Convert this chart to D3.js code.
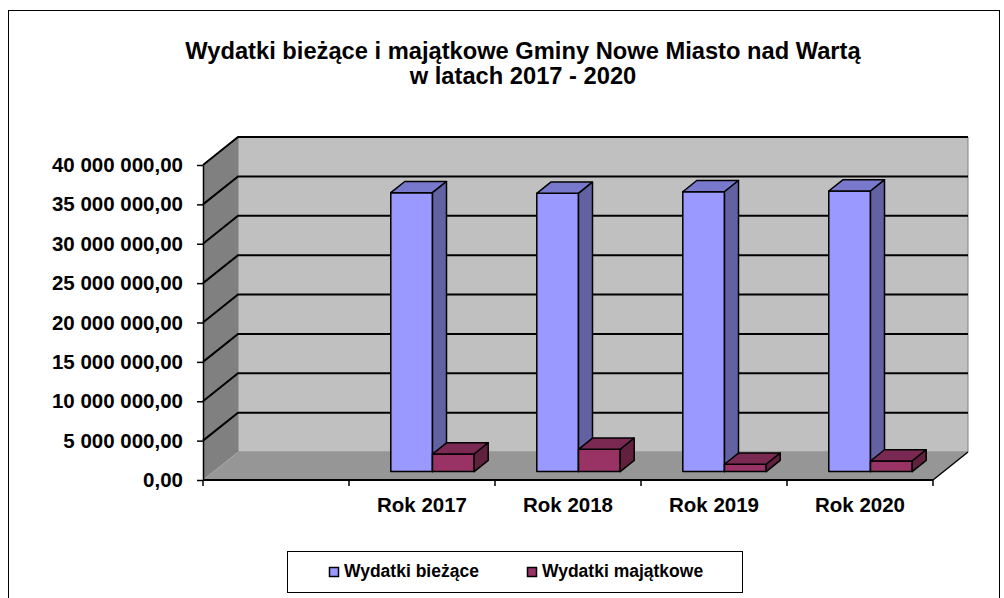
<!DOCTYPE html>
<meta charset="utf-8">
<head>
    <title>Wydatki bieżące i majątkowe</title>
    <script src="https://d3js.org/d3.v7.min.js"></script>
</head>
<style type="text/css">
body {
    margin: 0;
    background: #FFFFFF;
}
svg text {
    font-family: "Liberation Sans", Arial, sans-serif;
    font-weight: bold;
    fill: #000000;
}
</style>
<body>
    <svg id="chart" width="1004" height="598"></svg>

    <script type="text/javascript">
        // data
        var categories = ["", "Rok 2017", "Rok 2018", "Rok 2019", "Rok 2020"];
        var seriesNames = ["Wydatki bieżące", "Wydatki majątkowe"];
        var biezace = [null, 35420000, 35340000, 35540000, 35630000];
        var majatkowe = [null, 2230000, 2830000, 930000, 1350000];
        var yTicks = [0, 5000000, 10000000, 15000000, 20000000, 25000000, 30000000, 35000000, 40000000];
        var titleLines = ["Wydatki bieżące i majątkowe Gminy Nowe Miasto nad Wartą", "w latach 2017 - 2020"];

        var colors = {
            "Wydatki bieżące": {front: "#9999FF", top: "#7878CC", side: "#6262A3"},
            "Wydatki majątkowe": {front: "#993366", top: "#7A2952", side: "#62203F"}
        };

        var svg = d3.select("#chart");

        // plot box (front plane) and 3d depth offset
        var pLeft = 203, pRight = 933, pBottom = 480, pTop = 165;
        var DX = 35, DY = 28;
        var z0 = 0.3, z1 = 0.7;

        function P(x, y, z) { return [x + z * DX, y - z * DY]; }
        function poly(pts) { return pts.map(function(p) { return p.join(","); }).join(" "); }

        var x = d3.scaleBand().domain(categories).range([pLeft, pRight]).paddingInner(0).paddingOuter(0);
        var xs = d3.scaleBand().domain(seriesNames).range([0, x.bandwidth()]).paddingInner(0).paddingOuter(0.75);
        var y = d3.scaleLinear().domain([0, 40000000]).range([pBottom, pTop]);

        var pl = d3.formatLocale({decimal: ",", thousands: " ", grouping: [3], currency: ["", ""]});
        var fmt = pl.format(",.2f");

        // outer frame
        svg.append("rect")
            .attr("x", 8.5).attr("y", 10.5)
            .attr("width", 991).attr("height", 640)
            .attr("fill", "none").attr("stroke", "#000").attr("stroke-width", 1);

        // title
        svg.selectAll(".title").data(titleLines).enter().append("text")
            .attr("class", "title")
            .attr("x", 523)
            .attr("y", function(d, i) { return 59 + i * 25; })
            .attr("text-anchor", "middle")
            .style("font-size", "23.7px")
            .text(function(d) { return d; });

        var yMax = y(40000000), y0 = y(0);

        // walls
        svg.append("polygon")
            .attr("points", poly([P(pLeft, yMax, 1), P(pRight, yMax, 1), P(pRight, y0, 1), P(pLeft, y0, 1)]))
            .attr("fill", "#C0C0C0").attr("stroke", "#808080").attr("stroke-width", 1);
        svg.append("polygon")
            .attr("points", poly([P(pLeft, yMax, 0), P(pLeft, yMax, 1), P(pLeft, y0, 1), P(pLeft, y0, 0)]))
            .attr("fill", "#808080");
        svg.append("polygon")
            .attr("points", poly([P(pLeft, y0, 0), P(pRight, y0, 0), P(pRight, y0, 1), P(pLeft, y0, 1)]))
            .attr("fill", "#969696");

        // gridlines: back wall + side wall
        var grid = svg.append("g");
        yTicks.filter(function(d) { return d > 0; }).forEach(function(t) {
            var a = P(pLeft, y(t), 0), b = P(pLeft, y(t), 1), c = P(pRight, y(t), 1);
            grid.append("polyline")
                .attr("points", poly([a, b, c]))
                .attr("fill", "none").attr("stroke", "#000").attr("stroke-width", 2);
        });

        // floor right edge
        svg.append("line")
            .attr("x1", P(pRight, y0, 0)[0]).attr("y1", P(pRight, y0, 0)[1])
            .attr("x2", P(pRight, y0, 1)[0]).attr("y2", P(pRight, y0, 1)[1])
            .attr("stroke", "#000").attr("stroke-width", 1.5);

        // bars
        var bars = svg.append("g");
        categories.forEach(function(cat, i) {
            var vals = [biezace[i], majatkowe[i]];
            seriesNames.forEach(function(s, j) {
                if (vals[j] == null) return;
                var bx = x(cat) + xs(s), bw = xs.bandwidth(), yv = y(vals[j]);
                var c = colors[s];
                bars.append("polygon")
                    .attr("points", poly([P(bx, yv, z0), P(bx + bw, yv, z0), P(bx + bw, y0, z0), P(bx, y0, z0)]))
                    .attr("fill", c.front).attr("stroke", "#000").attr("stroke-width", 1.5).attr("stroke-linejoin", "round");
                bars.append("polygon")
                    .attr("points", poly([P(bx, yv, z0), P(bx + bw, yv, z0), P(bx + bw, yv, z1), P(bx, yv, z1)]))
                    .attr("fill", c.top).attr("stroke", "#000").attr("stroke-width", 1.5).attr("stroke-linejoin", "round");
                bars.append("polygon")
                    .attr("points", poly([P(bx + bw, yv, z0), P(bx + bw, yv, z1), P(bx + bw, y0, z1), P(bx + bw, y0, z0)]))
                    .attr("fill", c.side).attr("stroke", "#000").attr("stroke-width", 1.5).attr("stroke-linejoin", "round");
            });
        });

        // y axis
        var yAxis = d3.axisLeft(y).tickValues(yTicks).tickFormat(fmt).tickSize(6).tickSizeOuter(0).tickPadding(14);
        var gy = svg.append("g").attr("transform", "translate(" + pLeft + ",0)").call(yAxis);
        gy.attr("font-family", null).attr("font-size", null);
        gy.selectAll("path, line").attr("stroke", "#000").attr("stroke-width", 1.5);
        gy.selectAll("text").style("font-size", "20.5px");

        // x axis: line, boundary ticks, labels at band centre
        svg.append("line")
            .attr("x1", pLeft).attr("x2", pRight).attr("y1", y0).attr("y2", y0)
            .attr("stroke", "#000").attr("stroke-width", 2);
        var bounds = categories.map(function(c) { return x(c); }).concat([pRight]);
        svg.selectAll(".xtick").data(bounds).enter().append("line")
            .attr("class", "xtick")
            .attr("x1", function(d) { return d; }).attr("x2", function(d) { return d; })
            .attr("y1", y0).attr("y2", y0 + 6)
            .attr("stroke", "#000").attr("stroke-width", 1.5);
        svg.selectAll(".xlabel").data(categories).enter().append("text")
            .attr("class", "xlabel")
            .attr("x", function(d) { return x(d) + x.bandwidth() / 2; })
            .attr("y", 512)
            .attr("text-anchor", "middle")
            .style("font-size", "20.5px")
            .text(function(d) { return d; });

        // legend
        var legend = svg.append("g");
        legend.append("rect")
            .attr("x", 287.5).attr("y", 551.5).attr("width", 455).attr("height", 41)
            .attr("fill", "#FFF").attr("stroke", "#000").attr("stroke-width", 1);
        var legX = [329, 527];
        seriesNames.forEach(function(s, j) {
            legend.append("rect")
                .attr("x", legX[j] + 0.5).attr("y", 567.5).attr("width", 9).attr("height", 9)
                .attr("fill", colors[s].front).attr("stroke", "#000").attr("stroke-width", 1.5);
            legend.append("text")
                .attr("x", legX[j] + 15).attr("y", 577)
                .style("font-size", "17.5px")
                .text(s);
        });
    </script>
</body>
